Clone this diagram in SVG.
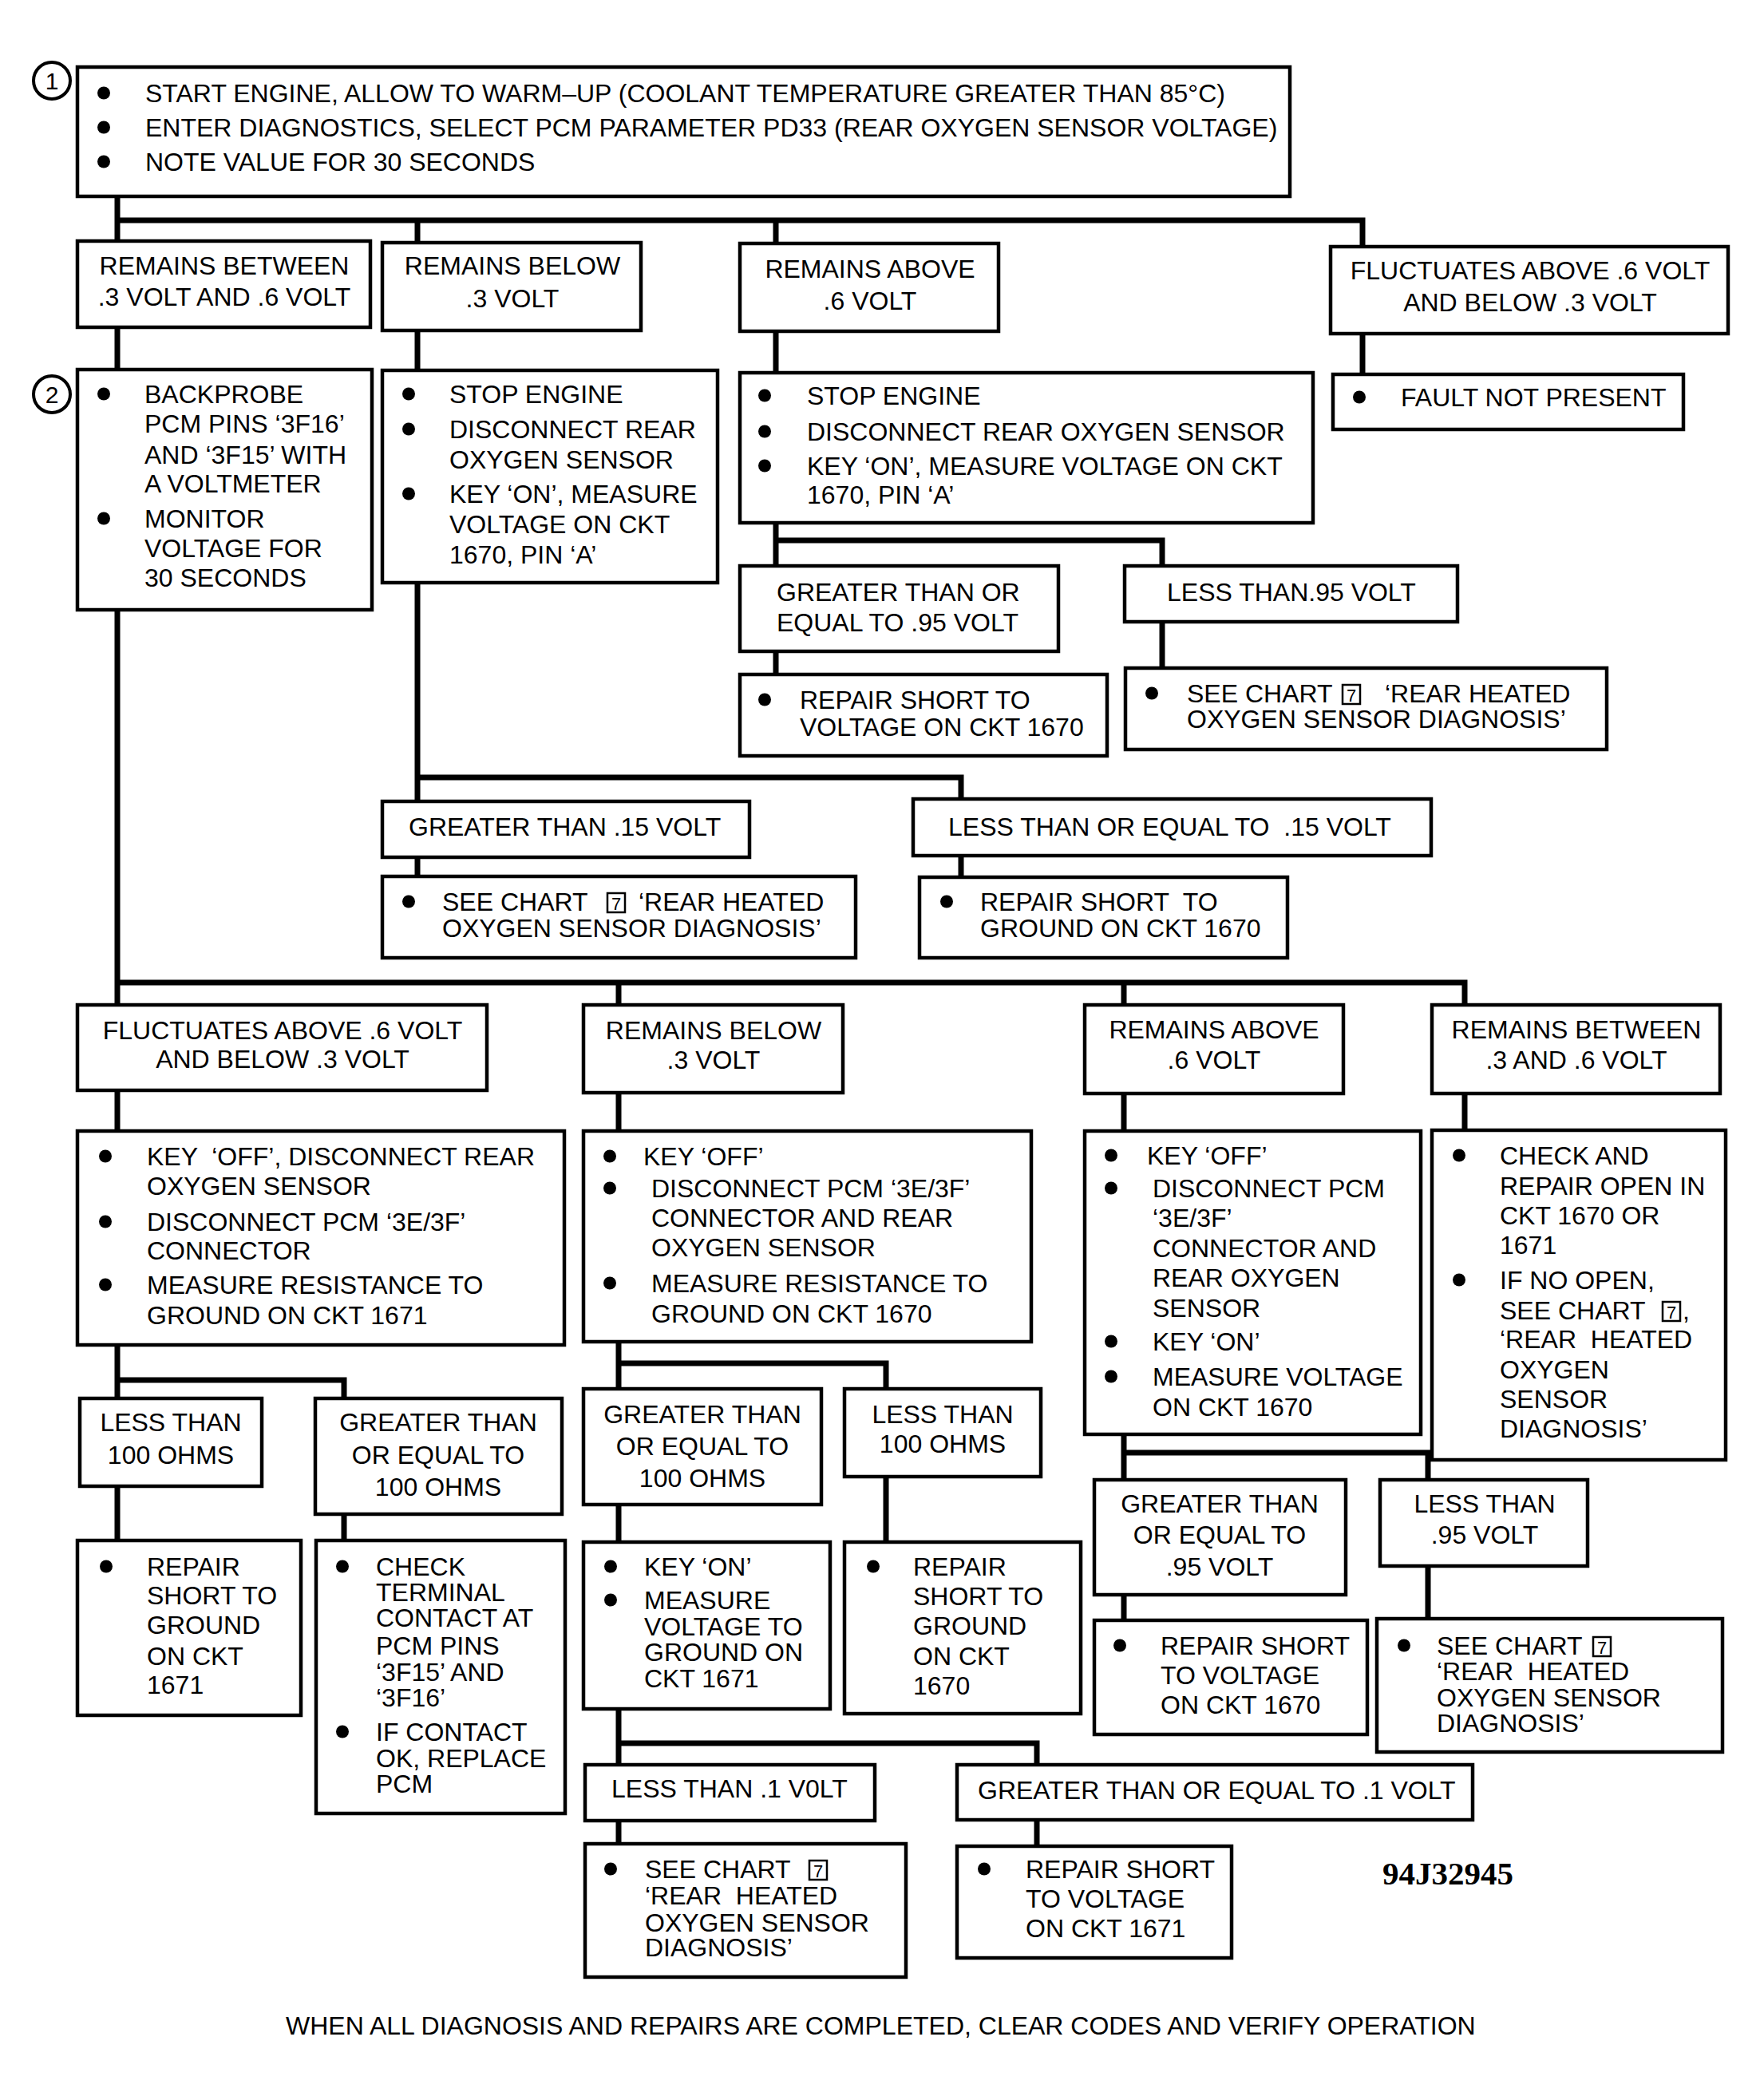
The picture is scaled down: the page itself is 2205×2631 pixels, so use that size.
<svg xmlns="http://www.w3.org/2000/svg" width="2205" height="2631" viewBox="0 0 2205 2631">
<style>
.bx{fill:#fff;stroke:#000;stroke-width:4.5}
.w{fill:none;stroke:#000;stroke-width:7;stroke-linejoin:miter}
text{font-family:"Liberation Sans",Arial,Helvetica,sans-serif;font-size:32px;fill:#000}
.m{text-anchor:middle}
.b{fill:#000}
.sq{fill:none;stroke:#000;stroke-width:2.5}
.s7{font-size:22px;text-anchor:middle}
.num{font-size:30px;text-anchor:middle}
.ring{fill:#fff;stroke:#000;stroke-width:4}
.code{font-family:"Liberation Serif","Times New Roman",serif;font-weight:bold;font-size:41px}
</style>
<rect width="2205" height="2631" fill="#fff"/>
<g id="connectors">
<path class="w" d="M147,246 V1930"/>
<path class="w" d="M147,276 H1707 V309"/>
<path class="w" d="M523,276 V1098"/>
<path class="w" d="M523,974 H1204 V1099"/>
<path class="w" d="M972,276 V845"/>
<path class="w" d="M972,677 H1456 V837"/>
<path class="w" d="M1707,418 V469"/>
<path class="w" d="M147,1231 H1835 V1416"/>
<path class="w" d="M775,1231 V2310"/>
<path class="w" d="M1408,1231 V2030"/>
<path class="w" d="M147,1729 H431 V1930"/>
<path class="w" d="M775,1708 H1110 V1932"/>
<path class="w" d="M775,2184 H1299 V2313"/>
<path class="w" d="M1408,1820 H1789 V2028"/>
</g>

<g id="step1">
<circle class="ring" cx="65" cy="101" r="23"/>
<text class="num" x="65" y="112">1</text>
</g>
<g id="step2">
<circle class="ring" cx="65" cy="494" r="23"/>
<text class="num" x="65" y="505">2</text>
</g>

<g id="n_start">
<rect class="bx" x="97" y="84" width="1519" height="162"/>
<circle class="b" cx="130" cy="116.5" r="8"/><text x="182" y="128">START ENGINE, ALLOW TO WARM–UP (COOLANT TEMPERATURE GREATER THAN 85°C)</text>
<circle class="b" cx="130" cy="159.5" r="8"/><text x="182" y="171">ENTER DIAGNOSTICS, SELECT PCM PARAMETER PD33 (REAR OXYGEN SENSOR VOLTAGE)</text>
<circle class="b" cx="130" cy="202.5" r="8"/><text x="182" y="214">NOTE VALUE FOR 30 SECONDS</text>
</g>

<g id="n_b1">
<rect class="bx" x="97" y="302" width="367" height="108"/>
<text class="m" x="281" y="344">REMAINS BETWEEN</text>
<text class="m" x="281" y="383">.3 VOLT AND .6 VOLT</text>
</g>
<g id="n_b2">
<rect class="bx" x="479" y="304" width="324" height="110"/>
<text class="m" x="642" y="344">REMAINS BELOW</text>
<text class="m" x="642" y="385">.3 VOLT</text>
</g>
<g id="n_b3">
<rect class="bx" x="927" y="305" width="324" height="110"/>
<text class="m" x="1090" y="348">REMAINS ABOVE</text>
<text class="m" x="1090" y="388">.6 VOLT</text>
</g>
<g id="n_b4">
<rect class="bx" x="1667" y="309" width="498" height="109"/>
<text class="m" x="1917" y="350">FLUCTUATES ABOVE .6 VOLT</text>
<text class="m" x="1917" y="390">AND BELOW .3 VOLT</text>
</g>

<g id="n_c1">
<rect class="bx" x="97" y="463" width="369" height="301"/>
<circle class="b" cx="130" cy="493.5" r="8"/><text x="181" y="505">BACKPROBE</text>
<text x="181" y="542">PCM PINS ‘3F16’</text>
<text x="181" y="581">AND ‘3F15’ WITH</text>
<text x="181" y="617">A VOLTMETER</text>
<circle class="b" cx="130" cy="649.5" r="8"/><text x="181" y="661">MONITOR</text>
<text x="181" y="698">VOLTAGE FOR</text>
<text x="181" y="735">30 SECONDS</text>
</g>
<g id="n_c2">
<rect class="bx" x="479" y="464" width="420" height="266"/>
<circle class="b" cx="512" cy="493.5" r="8"/><text x="563" y="505">STOP ENGINE</text>
<circle class="b" cx="512" cy="537.5" r="8"/><text x="563" y="549">DISCONNECT REAR</text>
<text x="563" y="587">OXYGEN SENSOR</text>
<circle class="b" cx="512" cy="618.5" r="8"/><text x="563" y="630">KEY ‘ON’, MEASURE</text>
<text x="563" y="668">VOLTAGE ON CKT</text>
<text x="563" y="706">1670, PIN ‘A’</text>
</g>
<g id="n_c3">
<rect class="bx" x="927" y="467" width="718" height="188"/>
<circle class="b" cx="958" cy="495.5" r="8"/><text x="1011" y="507">STOP ENGINE</text>
<circle class="b" cx="958" cy="540.5" r="8"/><text x="1011" y="552">DISCONNECT REAR OXYGEN SENSOR</text>
<circle class="b" cx="958" cy="583.5" r="8"/><text x="1011" y="595">KEY ‘ON’, MEASURE VOLTAGE ON CKT</text>
<text x="1011" y="631">1670, PIN ‘A’</text>
</g>
<g id="n_c4">
<rect class="bx" x="1670" y="469" width="439" height="69"/>
<circle class="b" cx="1703" cy="497.5" r="8"/><text x="1755" y="509">FAULT NOT PRESENT</text>
</g>

<g id="n_d1">
<rect class="bx" x="927" y="709" width="399" height="107"/>
<text x="973" y="753">GREATER THAN OR</text>
<text x="973" y="791">EQUAL TO .95 VOLT</text>
</g>
<g id="n_d2">
<rect class="bx" x="1409" y="709" width="417" height="70"/>
<text x="1462" y="753">LESS THAN.95 VOLT</text>
</g>
<g id="n_e1">
<rect class="bx" x="927" y="845" width="460" height="102"/>
<circle class="b" cx="958" cy="876.5" r="8"/><text x="1002" y="888">REPAIR SHORT TO</text>
<text x="1002" y="922">VOLTAGE ON CKT 1670</text>
</g>
<g id="n_e2">
<rect class="bx" x="1410" y="837" width="603" height="102"/>
<circle class="b" cx="1443" cy="868.5" r="8"/><text x="1487" y="880">SEE CHART</text>
<rect class="sq" x="1682" y="858" width="22" height="24"/><text class="s7" x="1693" y="879">7</text>
<text x="1735" y="880">‘REAR HEATED</text>
<text x="1487" y="912">OXYGEN SENSOR DIAGNOSIS’</text>
</g>

<g id="n_f1">
<rect class="bx" x="479" y="1004" width="460" height="70"/>
<text x="512" y="1047">GREATER THAN .15 VOLT</text>
</g>
<g id="n_f2">
<rect class="bx" x="1144" y="1001" width="649" height="71"/>
<text x="1188" y="1047" xml:space="preserve">LESS THAN OR EQUAL TO  .15 VOLT</text>
</g>
<g id="n_g1">
<rect class="bx" x="479" y="1098" width="593" height="102"/>
<circle class="b" cx="512" cy="1129.5" r="8"/><text x="554" y="1141">SEE CHART</text>
<rect class="sq" x="761" y="1119" width="22" height="24"/><text class="s7" x="772" y="1140">7</text>
<text x="800" y="1141">‘REAR HEATED</text>
<text x="554" y="1174">OXYGEN SENSOR DIAGNOSIS’</text>
</g>
<g id="n_g2">
<rect class="bx" x="1152" y="1099" width="461" height="101"/>
<circle class="b" cx="1186" cy="1129.5" r="8"/><text x="1228" y="1141" xml:space="preserve">REPAIR SHORT  TO</text>
<text x="1228" y="1174">GROUND ON CKT 1670</text>
</g>

<g id="n_h1">
<rect class="bx" x="97" y="1259" width="513" height="107"/>
<text class="m" x="354" y="1302">FLUCTUATES ABOVE .6 VOLT</text>
<text class="m" x="354" y="1338">AND BELOW .3 VOLT</text>
</g>
<g id="n_h2">
<rect class="bx" x="731" y="1259" width="325" height="110"/>
<text class="m" x="894" y="1302">REMAINS BELOW</text>
<text class="m" x="894" y="1339">.3 VOLT</text>
</g>
<g id="n_h3">
<rect class="bx" x="1359" y="1259" width="324" height="111"/>
<text class="m" x="1521" y="1301">REMAINS ABOVE</text>
<text class="m" x="1521" y="1339">.6 VOLT</text>
</g>
<g id="n_h4">
<rect class="bx" x="1794" y="1259" width="361" height="111"/>
<text class="m" x="1975" y="1301">REMAINS BETWEEN</text>
<text class="m" x="1975" y="1339">.3 AND .6 VOLT</text>
</g>

<g id="n_i1">
<rect class="bx" x="97" y="1417" width="610" height="268"/>
<circle class="b" cx="132" cy="1448.5" r="8"/><text x="184" y="1460" xml:space="preserve">KEY  ‘OFF’, DISCONNECT REAR</text>
<text x="184" y="1497">OXYGEN SENSOR</text>
<circle class="b" cx="132" cy="1530.5" r="8"/><text x="184" y="1542">DISCONNECT PCM ‘3E/3F’</text>
<text x="184" y="1578">CONNECTOR</text>
<circle class="b" cx="132" cy="1609.5" r="8"/><text x="184" y="1621">MEASURE RESISTANCE TO</text>
<text x="184" y="1659">GROUND ON CKT 1671</text>
</g>
<g id="n_i2">
<rect class="bx" x="731" y="1417" width="561" height="264"/>
<circle class="b" cx="764" cy="1448.5" r="8"/><text x="806" y="1460">KEY ‘OFF’</text>
<circle class="b" cx="764" cy="1488.5" r="8"/><text x="816" y="1500">DISCONNECT PCM ‘3E/3F’</text>
<text x="816" y="1537">CONNECTOR AND REAR</text>
<text x="816" y="1574">OXYGEN SENSOR</text>
<circle class="b" cx="764" cy="1607.5" r="8"/><text x="816" y="1619">MEASURE RESISTANCE TO</text>
<text x="816" y="1657">GROUND ON CKT 1670</text>
</g>
<g id="n_i3">
<rect class="bx" x="1359" y="1417" width="421" height="380"/>
<circle class="b" cx="1392" cy="1447.5" r="8"/><text x="1437" y="1459">KEY ‘OFF’</text>
<circle class="b" cx="1392" cy="1488.5" r="8"/><text x="1444" y="1500">DISCONNECT PCM</text>
<text x="1444" y="1537">‘3E/3F’</text>
<text x="1444" y="1575">CONNECTOR AND</text>
<text x="1444" y="1612">REAR OXYGEN</text>
<text x="1444" y="1650">SENSOR</text>
<circle class="b" cx="1392" cy="1680.5" r="8"/><text x="1444" y="1692">KEY ‘ON’</text>
<circle class="b" cx="1392" cy="1724.5" r="8"/><text x="1444" y="1736">MEASURE VOLTAGE</text>
<text x="1444" y="1774">ON CKT 1670</text>
</g>
<g id="n_i4">
<rect class="bx" x="1794" y="1416" width="368" height="413"/>
<circle class="b" cx="1828" cy="1447.5" r="8"/><text x="1879" y="1459">CHECK AND</text>
<text x="1879" y="1497">REPAIR OPEN IN</text>
<text x="1879" y="1534">CKT 1670 OR</text>
<text x="1879" y="1571">1671</text>
<circle class="b" cx="1828" cy="1603.5" r="8"/><text x="1879" y="1615">IF NO OPEN,</text>
<text x="1879" y="1653">SEE CHART</text>
<rect class="sq" x="2083" y="1631" width="22" height="24"/><text class="s7" x="2094" y="1652">7</text>
<text x="2108" y="1653">,</text>
<text x="1879" y="1689" xml:space="preserve">‘REAR  HEATED</text>
<text x="1879" y="1727">OXYGEN</text>
<text x="1879" y="1764">SENSOR</text>
<text x="1879" y="1801">DIAGNOSIS’</text>
</g>

<g id="n_j1">
<rect class="bx" x="100" y="1752" width="228" height="110"/>
<text class="m" x="214" y="1793">LESS THAN</text>
<text class="m" x="214" y="1834">100 OHMS</text>
</g>
<g id="n_j2">
<rect class="bx" x="395" y="1752" width="309" height="145"/>
<text class="m" x="549" y="1793">GREATER THAN</text>
<text class="m" x="549" y="1834">OR EQUAL TO</text>
<text class="m" x="549" y="1874">100 OHMS</text>
</g>
<g id="n_j3">
<rect class="bx" x="731" y="1740" width="298" height="145"/>
<text class="m" x="880" y="1783">GREATER THAN</text>
<text class="m" x="880" y="1823">OR EQUAL TO</text>
<text class="m" x="880" y="1863">100 OHMS</text>
</g>
<g id="n_j4">
<rect class="bx" x="1058" y="1740" width="246" height="110"/>
<text class="m" x="1181" y="1783">LESS THAN</text>
<text class="m" x="1181" y="1820">100 OHMS</text>
</g>

<g id="n_k1">
<rect class="bx" x="97" y="1930" width="280" height="219"/>
<circle class="b" cx="133" cy="1962.5" r="8"/><text x="184" y="1974">REPAIR</text>
<text x="184" y="2010">SHORT TO</text>
<text x="184" y="2047">GROUND</text>
<text x="184" y="2086">ON CKT</text>
<text x="184" y="2122">1671</text>
</g>
<g id="n_k2">
<rect class="bx" x="396" y="1930" width="312" height="342"/>
<circle class="b" cx="429" cy="1962.5" r="8"/><text x="471" y="1974">CHECK</text>
<text x="471" y="2006">TERMINAL</text>
<text x="471" y="2038">CONTACT AT</text>
<text x="471" y="2073">PCM PINS</text>
<text x="471" y="2106">‘3F15’ AND</text>
<text x="471" y="2138">‘3F16’</text>
<circle class="b" cx="429" cy="2169.5" r="8"/><text x="471" y="2181">IF CONTACT</text>
<text x="471" y="2214">OK, REPLACE</text>
<text x="471" y="2246">PCM</text>
</g>
<g id="n_k3">
<rect class="bx" x="731" y="1932" width="309" height="209"/>
<circle class="b" cx="765" cy="1962.5" r="8"/><text x="807" y="1974">KEY ‘ON’</text>
<circle class="b" cx="765" cy="2004.5" r="8"/><text x="807" y="2016">MEASURE</text>
<text x="807" y="2049">VOLTAGE TO</text>
<text x="807" y="2081">GROUND ON</text>
<text x="807" y="2114">CKT 1671</text>
</g>
<g id="n_k4">
<rect class="bx" x="1058" y="1932" width="296" height="215"/>
<circle class="b" cx="1094" cy="1962.5" r="8"/><text x="1144" y="1974">REPAIR</text>
<text x="1144" y="2011">SHORT TO</text>
<text x="1144" y="2048">GROUND</text>
<text x="1144" y="2086">ON CKT</text>
<text x="1144" y="2123">1670</text>
</g>

<g id="n_l1">
<rect class="bx" x="733" y="2211" width="363" height="70"/>
<text x="766" y="2252">LESS THAN .1 V0LT</text>
</g>
<g id="n_l2">
<rect class="bx" x="1199" y="2211" width="646" height="69"/>
<text x="1225" y="2254">GREATER THAN OR EQUAL TO .1 VOLT</text>
</g>
<g id="n_m1">
<rect class="bx" x="733" y="2310" width="402" height="167"/>
<circle class="b" cx="765" cy="2341.5" r="8"/><text x="808" y="2353">SEE CHART</text>
<rect class="sq" x="1014" y="2331" width="22" height="24"/><text class="s7" x="1025" y="2352">7</text>
<text x="808" y="2386" xml:space="preserve">‘REAR  HEATED</text>
<text x="808" y="2420">OXYGEN SENSOR</text>
<text x="808" y="2451">DIAGNOSIS’</text>
</g>
<g id="n_m2">
<rect class="bx" x="1199" y="2313" width="344" height="140"/>
<circle class="b" cx="1233" cy="2341.5" r="8"/><text x="1285" y="2353">REPAIR SHORT</text>
<text x="1285" y="2390">TO VOLTAGE</text>
<text x="1285" y="2427">ON CKT 1671</text>
</g>

<g id="n_n1">
<rect class="bx" x="1371" y="1854" width="315" height="144"/>
<text class="m" x="1528" y="1895">GREATER THAN</text>
<text class="m" x="1528" y="1934">OR EQUAL TO</text>
<text class="m" x="1528" y="1974">.95 VOLT</text>
</g>
<g id="n_n2">
<rect class="bx" x="1729" y="1854" width="260" height="108"/>
<text class="m" x="1860" y="1895">LESS THAN</text>
<text class="m" x="1860" y="1934">.95 VOLT</text>
</g>
<g id="n_o1">
<rect class="bx" x="1371" y="2030" width="342" height="143"/>
<circle class="b" cx="1403" cy="2061.5" r="8"/><text x="1454" y="2073">REPAIR SHORT</text>
<text x="1454" y="2110">TO VOLTAGE</text>
<text x="1454" y="2147">ON CKT 1670</text>
</g>
<g id="n_o2">
<rect class="bx" x="1725" y="2028" width="433" height="167"/>
<circle class="b" cx="1759" cy="2061.5" r="8"/><text x="1800" y="2073">SEE CHART</text>
<rect class="sq" x="1996" y="2051" width="22" height="24"/><text class="s7" x="2007" y="2072">7</text>
<text x="1800" y="2105" xml:space="preserve">‘REAR  HEATED</text>
<text x="1800" y="2138">OXYGEN SENSOR</text>
<text x="1800" y="2170">DIAGNOSIS’</text>
</g>

<g id="labels">
<text class="code" x="1732" y="2361">94J32945</text>
<text x="358" y="2549">WHEN ALL DIAGNOSIS AND REPAIRS ARE COMPLETED, CLEAR CODES AND VERIFY OPERATION</text>
</g>
</svg>
